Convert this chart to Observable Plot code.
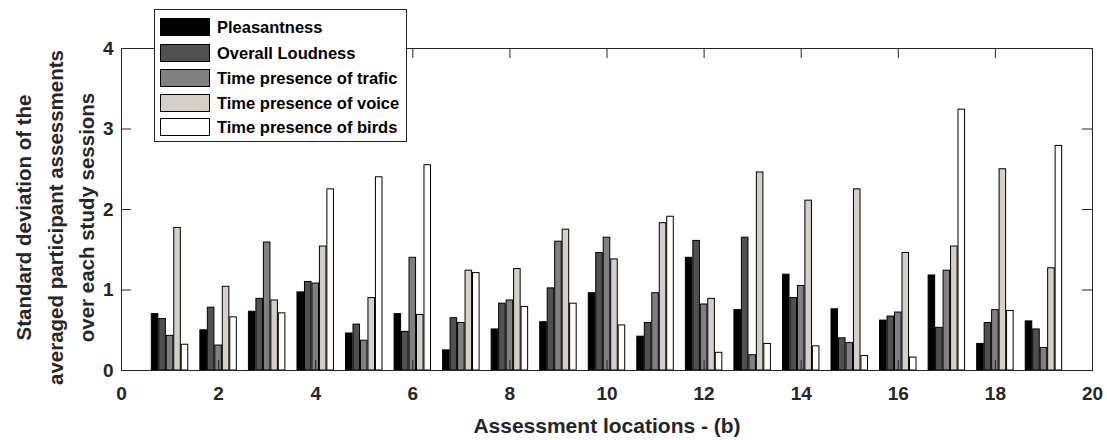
<!DOCTYPE html>
<html>
<head>
<meta charset="utf-8">
<script src="https://cdn.jsdelivr.net/npm/d3@7"></script>
<script src="https://cdn.jsdelivr.net/npm/@observablehq/plot@0.6"></script>
<style>
  body { margin: 0; background: #fff; }
  #wrap { position: relative; width: 1107px; height: 440px; font-family: "Liberation Sans", Arial, sans-serif; }
  #legend { position: absolute; left: 154px; top: 9px; width: 251px; height: 131px; border: 1px solid #262626; background: #fff; box-sizing: content-box; }
  .row { position: absolute; left: 5px; height: 18px; display: flex; align-items: center; }
  .sw { width: 48px; height: 16px; border: 1px solid #000; margin-right: 7px; }
  .lab { font-size: 16.5px; font-weight: bold; color: #000; white-space: nowrap; }
</style>
</head>
<body>
<div id="wrap"><div id="chart"></div><div id="legend"></div></div>
<script>
const series = ["Pleasantness", "Overall Loudness", "Time presence of trafic", "Time presence of voice", "Time presence of birds"];
const colors = ["#000000", "#505050", "#808080", "#d4d0c8", "#ffffff"];
const locations = [1,2,3,4,5,6,7,8,9,10,11,12,13,14,15,16,17,18,19];
const pleasantness = [0.70,0.50,0.73,0.97,0.46,0.70,0.25,0.51,0.60,0.96,0.42,1.40,0.75,1.19,0.76,0.62,1.18,0.33,0.61];
const loudness     = [0.64,0.78,0.89,1.10,0.57,0.48,0.65,0.83,1.02,1.46,0.59,1.61,1.65,0.90,0.40,0.67,0.53,0.59,0.51];
const traffic      = [0.43,0.31,1.59,1.08,0.37,1.40,0.59,0.87,1.60,1.65,0.96,0.82,0.19,1.05,0.34,0.72,1.24,0.75,0.28];
const voice        = [1.77,1.04,0.87,1.54,0.90,0.69,1.24,1.26,1.75,1.38,1.83,0.89,2.46,2.11,2.25,1.46,1.54,2.50,1.27];
const birds        = [0.32,0.66,0.71,2.25,2.40,2.55,1.21,0.79,0.83,0.56,1.91,0.22,0.33,0.30,0.18,0.16,3.24,0.74,2.79];
const xTicks = [0,2,4,6,8,10,12,14,16,18,20];
const yTicks = [0,1,2,3,4];
const xLabel = "Assessment locations - (b)";
const yTitle = "Standard deviation of the\naveraged participant assessments\nover each study sessions";

const values = [pleasantness, loudness, traffic, voice, birds];
const step = 0.154, bw = 0.135;
const table = [];
values.forEach((arr, s) => arr.forEach((v, i) => {
  const c = locations[i] + (s - 2) * step;
  table.push({series: series[s], x1: c - bw / 2, x2: c + bw / 2, value: v});
}));

const W = 1107, H = 440, mL = 121, mR = 15, mT = 48, mB = 70;
const pxX = (W - mL - mR) / 20, pxY = (H - mT - mB) / 4;
const tl = 10;
const tickXlen = tl / pxX, tickYlen = tl / pxY;
const ink = "#262626";

const chart = Plot.plot({
  width: W, height: H,
  marginLeft: mL, marginRight: mR, marginTop: mT, marginBottom: mB,
  style: {fontFamily: '"Liberation Sans", Arial, sans-serif', background: "#fff"},
  x: {domain: [0, 20]},
  y: {domain: [0, 4]},
  color: {domain: series, range: colors},
  marks: [
    Plot.rect(table, {x1: "x1", x2: "x2", y1: 0, y2: "value", fill: "series", stroke: "#000", strokeWidth: 1}),
    Plot.ruleY(yTicks, {y: d => d, x1: 0, x2: tickXlen, stroke: ink}),
    Plot.ruleY(yTicks, {y: d => d, x1: 20 - tickXlen, x2: 20, stroke: ink}),
    Plot.ruleX(xTicks, {x: d => d, y1: 0, y2: tickYlen, stroke: ink}),
    Plot.ruleX(xTicks, {x: d => d, y1: 4 - tickYlen, y2: 4, stroke: ink}),
    Plot.frame({stroke: ink, strokeWidth: 1}),
    Plot.axisY({ticks: yTicks, tickSize: 0, tickPadding: 8, tickFormat: d => String(d), fontSize: 19, fontWeight: "bold", fill: ink, label: null}),
    Plot.axisX({ticks: xTicks, tickSize: 0, tickPadding: 16, tickFormat: d => String(d), fontSize: 19, fontWeight: "bold", fill: ink, label: null}),
    Plot.text([xLabel], {frameAnchor: "bottom", dy: 56, text: d => d, fontSize: 21, fontWeight: "bold", fill: ink, textAnchor: "middle", lineAnchor: "middle"}),
    Plot.text([yTitle], {frameAnchor: "left", rotate: -90, dx: -69, dy: 8, text: d => d, fontSize: 20.5, fontWeight: "bold", fill: ink, lineHeight: 1.55, textAnchor: "middle", lineAnchor: "middle"})
  ]
});
chart.style.position = "absolute";
chart.style.left = "0px";
chart.style.top = "0px";
document.getElementById("chart").appendChild(chart);

const legend = document.getElementById("legend");
const rowTops = [8, 34, 59, 84, 108];
series.forEach((s, i) => {
  const row = document.createElement("div");
  row.className = "row";
  row.style.top = rowTops[i] + "px";
  const sw = document.createElement("div");
  sw.className = "sw";
  sw.style.background = colors[i];
  const lab = document.createElement("span");
  lab.className = "lab";
  lab.textContent = s;
  row.appendChild(sw); row.appendChild(lab);
  legend.appendChild(row);
});
</script>
</body>
</html>
